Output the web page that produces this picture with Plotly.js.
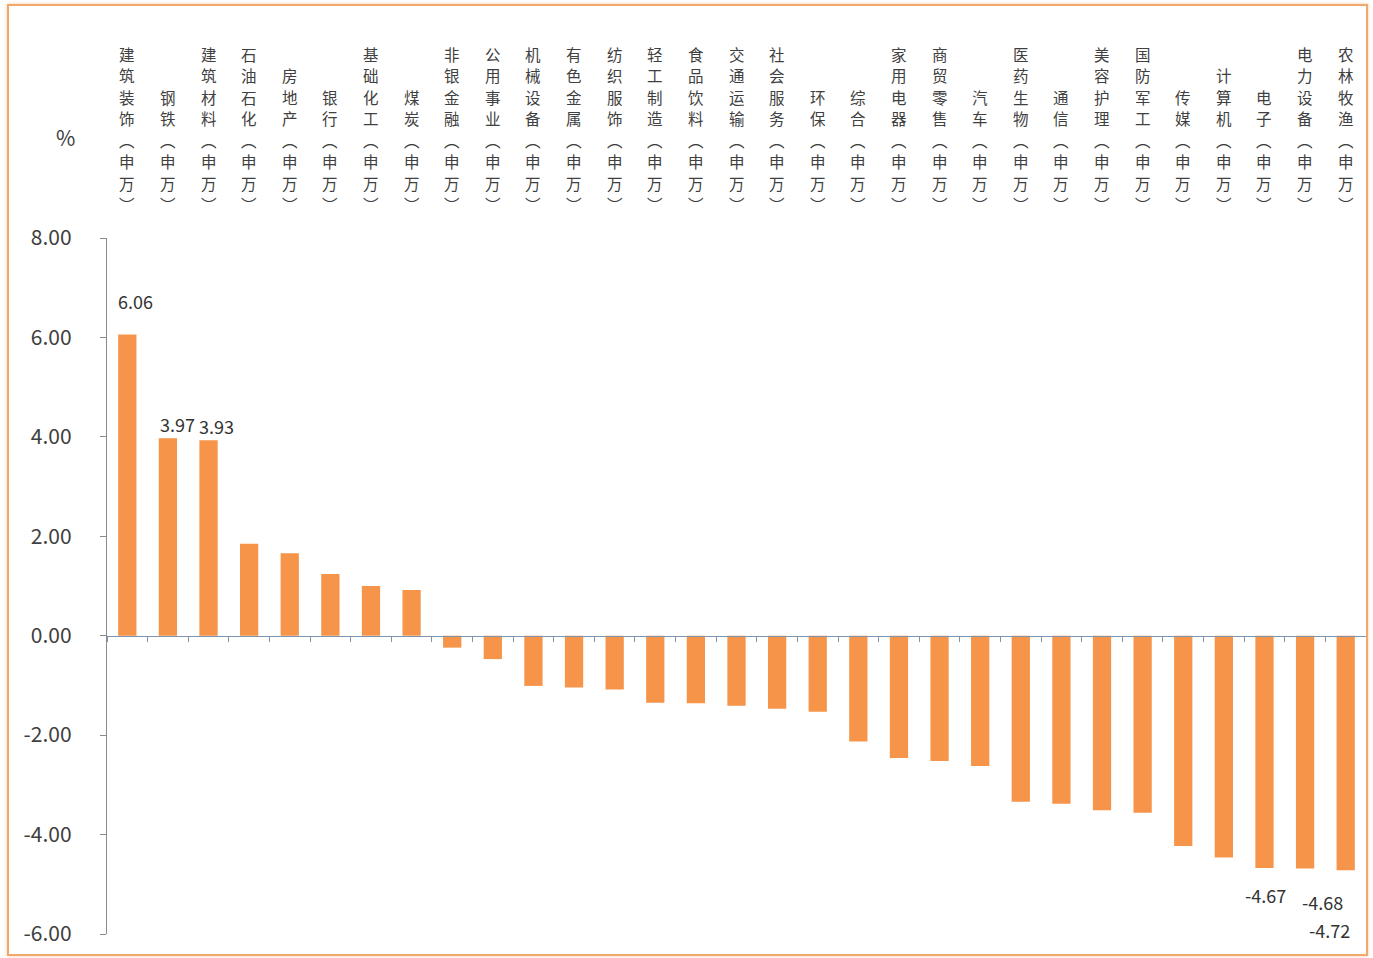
<!DOCTYPE html>
<html>
<head>
<meta charset="utf-8">
<script src="https://cdn.plot.ly/plotly-3.0.1.min.js"></script>
<style>
  html, body { margin: 0; padding: 0; background: #ffffff; }
  #wrap { position: relative; width: 1373px; height: 958px; }
  #chart { position: absolute; left: 0; top: 0; width: 1373px; height: 958px; }
  #frame { position: absolute; left: 7px; top: 4px; width: 1357px; height: 948px;
           border: 2.5px solid #F2A86B; box-shadow: 0 0 3px rgba(240,150,80,0.5); pointer-events: none; }
</style>
</head>
<body>
<div id="wrap">
  <div id="chart"></div>
  <div id="frame"></div>
</div>
<script>
// Industry names (申万)
const industries = ["建筑装饰","钢铁","建筑材料","石油石化","房地产","银行","基础化工","煤炭",
  "非银金融","公用事业","机械设备","有色金属","纺织服饰","轻工制造","食品饮料","交通运输",
  "社会服务","环保","综合","家用电器","商贸零售","汽车","医药生物","通信","美容护理",
  "国防军工","传媒","计算机","电子","电力设备","农林牧渔"];
const suffix = "(申万)";
// Weekly change, %
const changes = [6.06, 3.97, 3.93, 1.85, 1.66, 1.24, 1.00, 0.92,
  -0.24, -0.47, -1.01, -1.04, -1.08, -1.35, -1.36, -1.41,
  -1.47, -1.53, -2.13, -2.46, -2.52, -2.62, -3.34, -3.38, -3.51,
  -3.56, -4.23, -4.46, -4.67, -4.68, -4.72];
// Which bars carry value labels
const labelled = [0, 1, 2, 28, 29, 30];
// Y axis ticks
const yTicks = [-6, -4, -2, 0, 2, 4, 6, 8];
const yTickText = ["-6.00", "-4.00", "-2.00", "0.00", "2.00", "4.00", "6.00", "8.00"];

const cats = industries.map(n => n + suffix);

const barColor = "#F6954A";
const fontFam = "'Noto Sans CJK SC', 'Noto Sans', sans-serif";

const traces = [
  {
    type: "bar", x: cats, y: changes, xaxis: "x", yaxis: "y",
    marker: { color: barColor }, hoverinfo: "x+y"
  },
  {
    type: "bar", x: cats, y: changes, xaxis: "x2", yaxis: "y",
    marker: { color: "rgba(0,0,0,0)" }, hoverinfo: "skip", showlegend: false
  }
];

const L = 107, R = 7, T = 238, B = 24, W = 1373, H = 958;
const pw = W - L - R, ph = H - T - B;

// value labels (pixel offsets are styling only)
const offs = {0: [8, -33], 1: [10, -14], 2: [8, -14], 28: [1, 27], 29: [17, 34], 30: [-16, 60]};
const annotations = labelled.map(i => ({
  x: cats[i], y: changes[i], xref: "x", yref: "y",
  text: changes[i].toFixed(2), showarrow: false,
  xshift: offs[i][0], yshift: -offs[i][1],
  font: { family: fontFam, size: 18, color: "#333333" }
}));

// vertical category labels above the plot, one glyph per line (stacked top-to-bottom)
const charGap = 21.5, baseGap = 22;
cats.forEach(c => {
  const chars = Array.from(c.replace("(", "︵").replace(")", "︶"));
  const n = chars.length;
  chars.forEach((ch, k) => {
    annotations.push({
      x: c, xref: "x", y: 1, yref: "paper", yanchor: "bottom", xanchor: "center",
      yshift: baseGap + (n - 1 - k) * charGap,
      text: ch, showarrow: false, borderpad: 0,
      font: { family: fontFam, size: 15.5, color: "#404040" }
    });
  });
});

annotations.push({
  x: (65 - L) / pw, y: (H - B - 137) / ph, xref: "paper", yref: "paper",
  xanchor: "center", yanchor: "middle",
  text: "%", showarrow: false, font: { family: fontFam, size: 21, color: "#404040" }
});

const zeroPos = (0 - (-6)) / (8 - (-6));

const layout = {
  width: W, height: H,
  margin: { l: L, r: R, t: T, b: B, pad: 0 },
  paper_bgcolor: "rgba(0,0,0,0)", plot_bgcolor: "rgba(0,0,0,0)",
  showlegend: false,
  bargap: 0.55,
  font: { family: fontFam, color: "#404040" },
  xaxis: {
    type: "category", side: "top", anchor: "y",
    showline: false, ticks: "", showgrid: false, zeroline: false,
    showticklabels: false,
    range: [-0.5, cats.length - 0.5]
  },
  xaxis2: {
    type: "category", overlaying: "x", anchor: "free", position: zeroPos,
    showline: true, linecolor: "#7E93AD", linewidth: 1.5,
    ticks: "outside", tickson: "boundaries", ticklen: 5, tickcolor: "#7E93AD",
    showticklabels: false, showgrid: false, zeroline: false,
    range: [-0.5, cats.length - 0.5]
  },
  yaxis: {
    range: [-6, 8], tickmode: "array", tickvals: yTicks, ticktext: yTickText,
    showline: true, linecolor: "#8A8A8A", linewidth: 1.2,
    ticks: "outside", ticklen: 6, tickcolor: "#8A8A8A",
    showgrid: false, zeroline: false, ticklabelstandoff: 24,
    tickfont: { family: fontFam, size: 21, color: "#404040" }
  },
  annotations: annotations
};

Plotly.newPlot("chart", traces, layout, { displayModeBar: false, staticPlot: true });
</script>
</body>
</html>
